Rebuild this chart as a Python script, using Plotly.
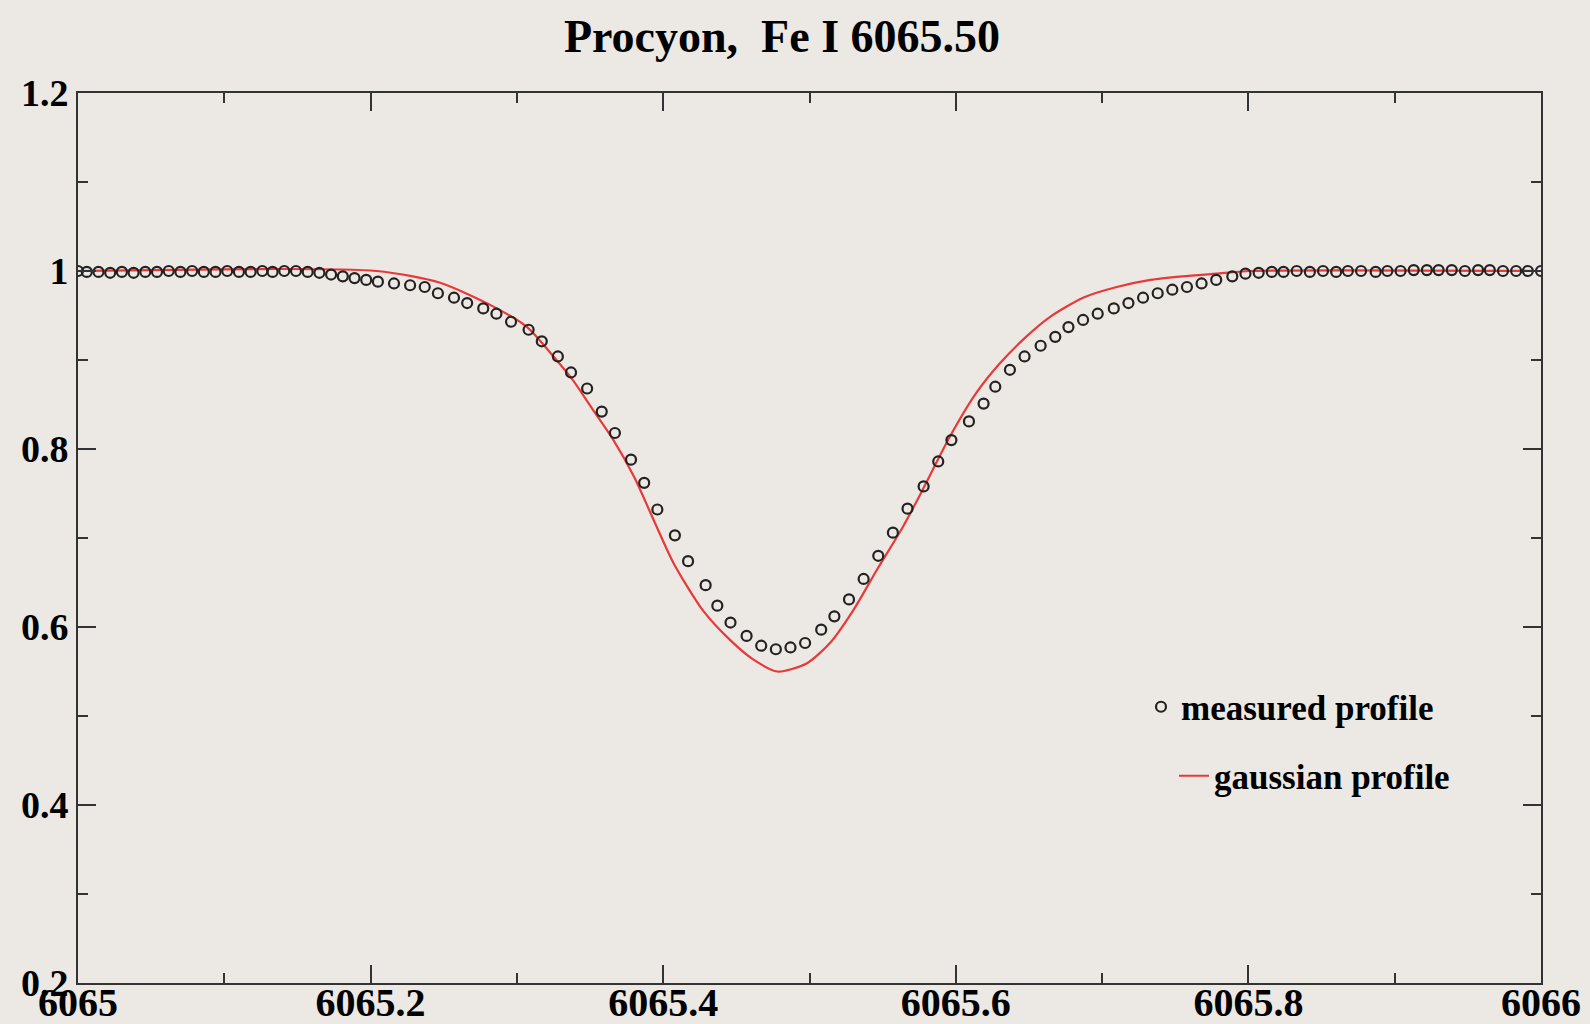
import plotly.graph_objects as go

# ---------------- data ----------------
measured_wl = [
    6065.000, 6065.006, 6065.014, 6065.022, 6065.030, 6065.038, 6065.046, 6065.054,
    6065.062, 6065.070, 6065.078, 6065.086, 6065.094, 6065.102, 6065.110, 6065.118,
    6065.126, 6065.133, 6065.141, 6065.149, 6065.157, 6065.165, 6065.173, 6065.181,
    6065.189, 6065.197, 6065.205, 6065.216, 6065.227, 6065.237, 6065.246, 6065.257,
    6065.266, 6065.277, 6065.286, 6065.296, 6065.308, 6065.317, 6065.328, 6065.337,
    6065.348, 6065.358, 6065.367, 6065.378, 6065.387, 6065.396, 6065.408, 6065.417,
    6065.429, 6065.437, 6065.446, 6065.457, 6065.467, 6065.477, 6065.487, 6065.497,
    6065.508, 6065.517, 6065.527, 6065.537, 6065.547, 6065.557, 6065.567, 6065.578,
    6065.588, 6065.597, 6065.609, 6065.619, 6065.627, 6065.637, 6065.647, 6065.658,
    6065.668, 6065.677, 6065.687, 6065.697, 6065.708, 6065.718, 6065.728, 6065.738,
    6065.748, 6065.758, 6065.768, 6065.778, 6065.789, 6065.798, 6065.807, 6065.816,
    6065.824, 6065.833, 6065.842, 6065.851, 6065.860, 6065.868, 6065.877, 6065.887,
    6065.895, 6065.904, 6065.913, 6065.922, 6065.930, 6065.939, 6065.948, 6065.957,
    6065.965, 6065.974, 6065.983, 6065.991, 6066.000,
]
measured_flux = [
    1.000, 0.999, 0.999, 0.998, 0.999, 0.998, 0.999, 0.999,
    1.000, 0.999, 1.000, 0.999, 0.999, 1.000, 0.999, 0.999,
    1.000, 0.999, 1.000, 1.000, 0.999, 0.998, 0.996, 0.994,
    0.992, 0.990, 0.988, 0.986, 0.984, 0.982, 0.975, 0.970,
    0.964, 0.958, 0.952, 0.943, 0.934, 0.921, 0.904, 0.886,
    0.868, 0.842, 0.818, 0.788, 0.762, 0.732, 0.703, 0.674,
    0.647, 0.624, 0.605, 0.590, 0.579, 0.575, 0.577, 0.582,
    0.597, 0.612, 0.631, 0.654, 0.680, 0.706, 0.733, 0.758,
    0.786, 0.810, 0.831, 0.851, 0.870, 0.889, 0.904, 0.916,
    0.926, 0.937, 0.945, 0.952, 0.958, 0.964, 0.970, 0.975,
    0.979, 0.982, 0.986, 0.990, 0.994, 0.997, 0.998, 0.999,
    0.999, 1.000, 0.999, 1.000, 0.999, 1.000, 1.000, 0.999,
    1.000, 1.000, 1.001, 1.001, 1.001, 1.001, 1.000, 1.001,
    1.001, 1.000, 1.000, 1.000, 1.000,
]

gauss_wl = [
    6065.000, 6065.204, 6065.247, 6065.284, 6065.307, 6065.325, 6065.338, 6065.352,
    6065.366, 6065.380, 6065.393, 6065.407, 6065.427, 6065.446, 6065.462, 6065.478,
    6065.498, 6065.514, 6065.530, 6065.546, 6065.564, 6065.576, 6065.596, 6065.614,
    6065.630, 6065.648, 6065.664, 6065.687, 6065.710, 6065.733, 6065.755, 6065.778,
    6065.801, 6066.000,
]
gauss_flux = [
    1.000, 1.000, 0.987, 0.960, 0.937, 0.904, 0.878, 0.844,
    0.810, 0.769, 0.722, 0.672, 0.619, 0.585, 0.563, 0.550,
    0.559, 0.582, 0.619, 0.664, 0.713, 0.750, 0.814, 0.863,
    0.896, 0.926, 0.948, 0.970, 0.982, 0.990, 0.994, 0.997,
    1.000, 1.000,
]

x_tickvals = [6065.0, 6065.2, 6065.4, 6065.6, 6065.8, 6066.0]
x_ticktext = ["6065", "6065.2", "6065.4", "6065.6", "6065.8", "6066"]
y_tickvals = [0.2, 0.4, 0.6, 0.8, 1.0, 1.2]
y_ticktext = ["0.2", "0.4", "0.6", "0.8", "1", "1.2"]

title_text = "Procyon,  Fe I 6065.50"
series_names = ["measured profile", "gaussian profile"]

# ---------------- styling ----------------
BG = "#ECE8E3"
AX = "#333333"
FONT = "Liberation Serif"

fig = go.Figure()
fig.add_trace(go.Scatter(
    x=gauss_wl, y=gauss_flux, mode="lines", name=series_names[1],
    line=dict(color="#E8393A", width=2.2, shape="spline", smoothing=0.7), legend="legend2",
))
fig.add_trace(go.Scatter(
    x=measured_wl, y=measured_flux, mode="markers", name=series_names[0],
    marker=dict(symbol="circle-open", size=10, color="#222222", line=dict(width=2.2, color="#222222")),
    legend="legend",
))

axis_common = dict(
    showline=True, linecolor=AX, linewidth=2, mirror="ticks",
    ticks="inside", ticklen=18, tickwidth=2, tickcolor=AX,
    showgrid=False, zeroline=False, automargin=False,
)

fig.update_xaxes(range=[6065, 6066], tickmode="array", tickvals=x_tickvals, ticktext=x_ticktext,
                 minor=dict(ticks="inside", ticklen=10, tickwidth=2, tickcolor=AX, dtick=0.1, tick0=6065, showgrid=False),
                 ticklabelstandoff=-17,
                 tickfont=dict(family=FONT, size=40, color="black", weight="bold"),
                 **axis_common)
fig.update_yaxes(range=[0.2, 1.2], tickmode="array", tickvals=y_tickvals, ticktext=y_ticktext,
                 minor=dict(ticks="inside", ticklen=10, tickwidth=2, tickcolor=AX, dtick=0.1, tick0=0.2, showgrid=False),
                 tickfont=dict(family=FONT, size=38, color="black", weight="bold"),
                 **axis_common)

legend_font = dict(family=FONT, size=35, color="black", weight="bold")
fig.update_layout(
    width=1590, height=1024,
    paper_bgcolor=BG, plot_bgcolor=BG,
    margin=dict(l=78, r=49, t=93, b=41, autoexpand=False),
    title=dict(text=title_text, x=782/1590, xanchor="center", y=1-36/1024, yanchor="middle",
               font=dict(family=FONT, size=46, color="black", weight="bold")),
    showlegend=True,
    legend=dict(x=(1141-78)/1463, xanchor="left", y=(983-707)/890, yanchor="middle",
                bgcolor="rgba(0,0,0,0)", borderwidth=0, font=legend_font),
    legend2=dict(x=(1174-78)/1463, xanchor="left", y=(983-776)/890, yanchor="middle",
                 bgcolor="rgba(0,0,0,0)", borderwidth=0, font=legend_font),
)

fig.write_html("out.html")
